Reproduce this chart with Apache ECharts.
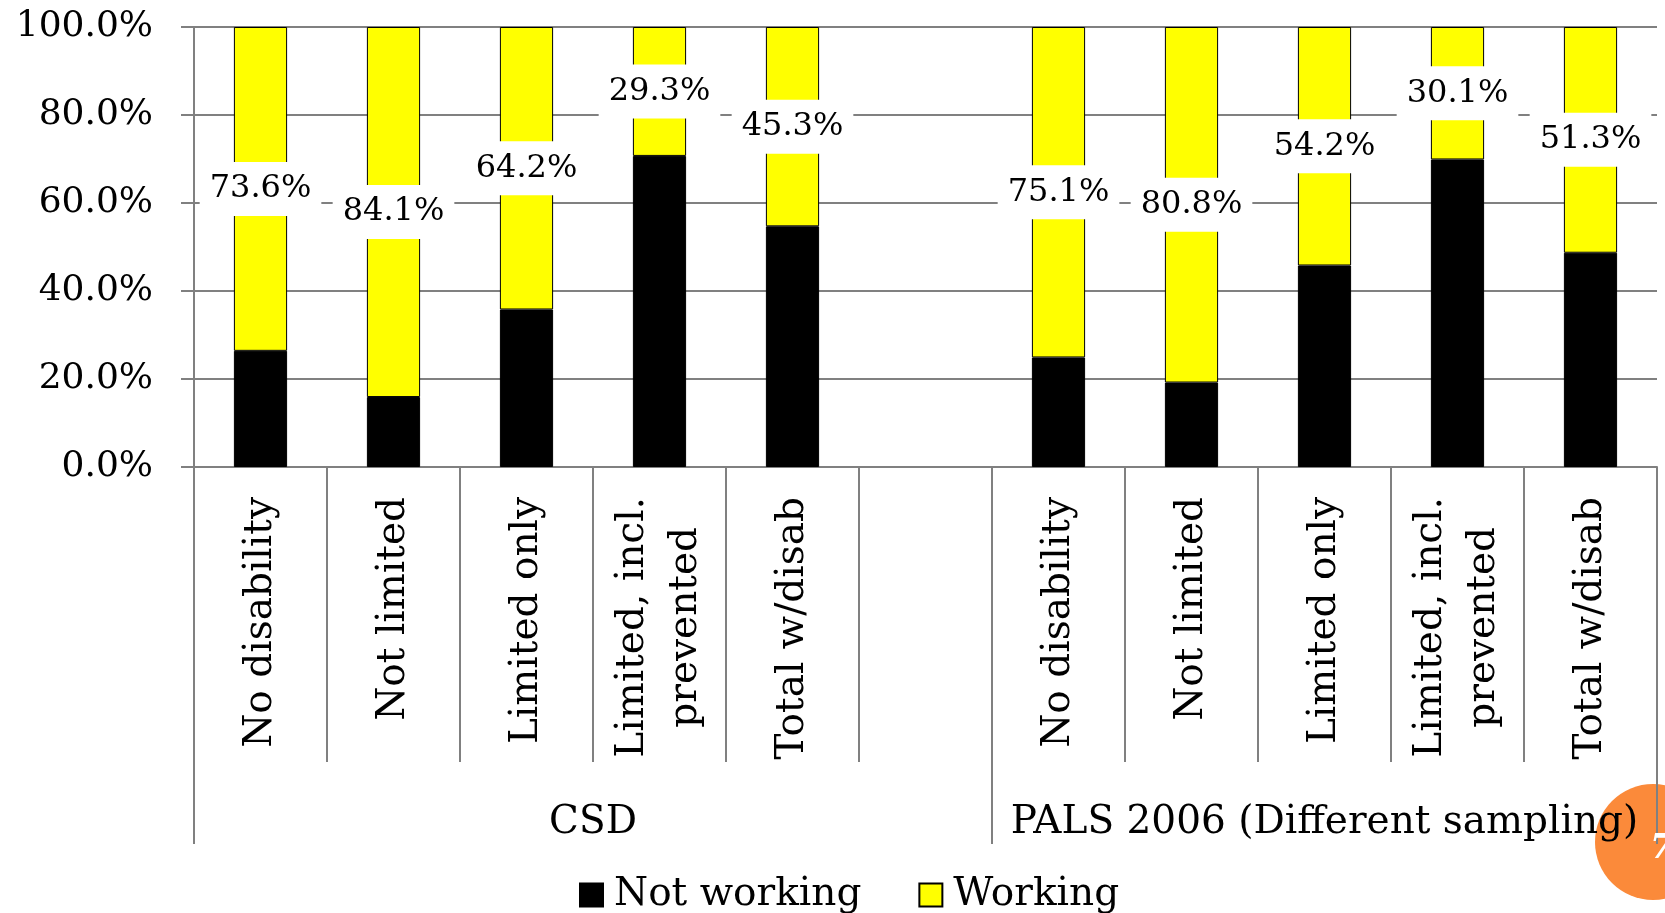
<!DOCTYPE html>
<html>
<head>
<meta charset="utf-8">
<script src="https://cdn.jsdelivr.net/npm/echarts@6/dist/echarts.min.js"></script>
<style>
html,body{margin:0;padding:0;background:#fff;}
#chart{width:1665px;height:913px;}
</style>
</head>
<body>
<div id="chart"></div>
<script>
// ---- data ----
const categories = ['No disability', 'Not limited', 'Limited only', 'Limited, incl.\nprevented', 'Total w/disab', '',
                    'No disability', 'Not limited', 'Limited only', 'Limited, incl.\nprevented', 'Total w/disab'];
const notWorking = [26.4, 15.9, 35.8, 70.7, 54.7, null, 24.9, 19.2, 45.8, 69.9, 48.7];
const working    = [73.6, 84.1, 64.2, 29.3, 45.3, null, 75.1, 80.8, 54.2, 30.1, 51.3];
const groupNames = ['CSD', 'PALS 2006 (Different sampling)'];
const groupSizes = [6, 5];
const yTicks = [0, 20, 40, 60, 80, 100];
const seriesNames = ['Not working', 'Working'];
const pageNumber = '7';

// ---- derived group-axis positions ----
const groupBounds = [0];
groupSizes.forEach(s => groupBounds.push(groupBounds[groupBounds.length - 1] + s));
const groupCenters = groupSizes.map((s, i) => groupBounds[i] + s / 2);

const FONT = 'DejaVu Serif';
const GRAY = '#808080';

const chart = echarts.init(document.getElementById('chart'));
chart.setOption({
  animation: false,
  backgroundColor: '#fff',
  grid: { left: 194, right: 8, top: 27, bottom: 446, containLabel: false },
  legend: {
    data: seriesNames,
    left: 574, top: 869,
    icon: 'rect', itemWidth: 23, itemHeight: 23, itemGap: 57,
    textStyle: { fontFamily: FONT, fontSize: 39, color: '#000', lineHeight: 42, padding: [0, 0, 0, 6] }
  },
  xAxis: [{
    type: 'category',
    data: categories,
    boundaryGap: true,
    axisLine: { show: true, lineStyle: { color: GRAY, width: 2 } },
    axisTick: { show: true, interval: 0, length: 295, lineStyle: { color: GRAY, width: 2 } },
    axisLabel: {
      interval: 0, rotate: 90, margin: 30, color: '#000',
      fontFamily: FONT, fontSize: 39, lineHeight: 53,
      formatter: v => v.split('\n').map(s => '{c|' + s + '}').join('\n'),
      rich: { c: { align: 'center', fontFamily: FONT, fontSize: 39, lineHeight: 53, color: '#000' } }
    },
    splitLine: { show: false }
  }, {
    type: 'value',
    position: 'bottom',
    offset: 295,
    min: 0, max: categories.length,
    axisLine: { show: false },
    axisTick: { show: true, customValues: groupBounds, length: 82, lineStyle: { color: GRAY, width: 2 } },
    axisLabel: {
      customValues: groupCenters, margin: 41, color: '#000', fontFamily: FONT, fontSize: 39,
      formatter: v => { const i = groupCenters.indexOf(v); return i >= 0 ? groupNames[i] : ''; }
    },
    splitLine: { show: false }
  }],
  yAxis: {
    type: 'value',
    min: yTicks[0], max: yTicks[yTicks.length - 1], interval: yTicks[1] - yTicks[0],
    axisLine: { show: true, lineStyle: { color: GRAY, width: 2 } },
    axisTick: { show: true, length: 13, lineStyle: { color: GRAY, width: 2 } },
    axisLabel: { margin: 41, color: '#000', fontFamily: FONT, fontSize: 36, formatter: v => v.toFixed(1) + '%' },
    splitLine: { show: true, lineStyle: { color: GRAY, width: 2 } }
  },
  series: [{
    name: seriesNames[0], type: 'bar', stack: 'all', data: notWorking,
    barCategoryGap: '60%',
    itemStyle: { color: '#000000', borderColor: '#000', borderWidth: 1 },
    label: { show: false }
  }, {
    name: seriesNames[1], type: 'bar', stack: 'all', data: working,
    barCategoryGap: '60%',
    itemStyle: { color: '#FFFF00', borderColor: '#000', borderWidth: 1 },
    label: {
      show: true, position: 'inside', color: '#000', fontFamily: FONT, fontSize: 32, lineHeight: 34,
      backgroundColor: '#fff', padding: [10, 10],
      formatter: p => p.value == null ? '' : Number(p.value).toFixed(1) + '%'
    }
  }],
  graphic: {
    elements: [{
      type: 'circle', z: -10, silent: true,
      shape: { cx: 1653, cy: 842, r: 58 },
      style: { fill: '#FB8A3A' }
    }, {
      type: 'text', z: 100, silent: true,
      x: 1650, y: 849,
      style: { text: pageNumber, fill: '#fff', font: 'bold italic 34px ' + FONT, verticalAlign: 'middle' }
    }]
  }
});
</script>
</body>
</html>
